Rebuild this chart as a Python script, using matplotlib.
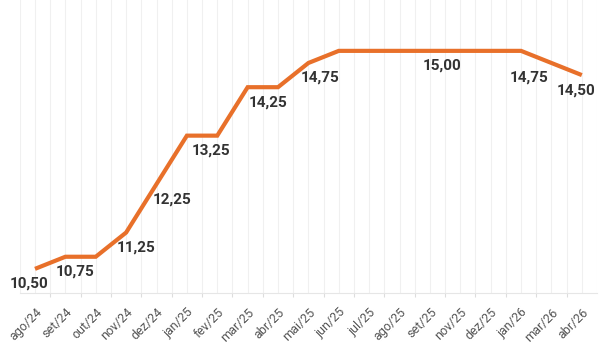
import matplotlib.pyplot as plt
import numpy as np

MONTHS = ["ago/24", "set/24", "out/24", "nov/24", "dez/24", "jan/25", "fev/25",
          "mar/25", "abr/25", "mai/25", "jun/25", "jul/25", "ago/25", "set/25",
          "nov/25", "dez/25", "jan/26", "mar/26", "abr/26"]
SELIC = [10.50, 10.75, 10.75, 11.25, 12.25, 13.25, 13.25, 14.25, 14.25, 14.75,
         15.00, 15.00, 15.00, 15.00, 15.00, 15.00, 15.00, 14.75, 14.50]

# which points get a value label, and where the label sits (pixels from the point)
LABEL_IDX = [0, 1, 3, 4, 5, 7, 9, 13, 17, 18]
LABEL_DX = [-6, 10, 10, 16, 24, 20, 12, 12, -22, -6]

ORANGE = "#E8702A"
TEXT = "#333333"


def fmt(v: float) -> str:
    return f"{v:.2f}".replace(".", ",")


def main() -> None:
    plt.rcParams.update({"font.family": ["Roboto", "DejaVu Sans"]})

    fig = plt.figure(figsize=(6.0, 3.51), dpi=100)
    ax = fig.add_axes([0.033, 0.165, 0.962, 0.835])

    x = np.arange(len(MONTHS))
    ax.plot(x, SELIC, color=ORANGE, linewidth=3.0, solid_capstyle="butt",
            solid_joinstyle="miter", zorder=3)

    for idx, dx in zip(LABEL_IDX, LABEL_DX):
        ax.annotate(fmt(SELIC[idx]), (x[idx], SELIC[idx]),
                    xytext=(dx, -15), textcoords="offset pixels",
                    ha="center", va="center", fontsize=11, fontweight="bold",
                    color=TEXT, zorder=4)

    ax.set_xlim(-0.5, len(MONTHS) - 0.5)
    ax.set_ylim(10.0, 16.05)

    # faint grid at category centres and boundaries
    for gx in np.arange(-0.5, len(MONTHS), 0.5):
        ax.axvline(gx, color="#F0F0F0", linewidth=0.8, zorder=0)

    ax.set_xticks(x)
    ax.set_xticklabels(MONTHS, rotation=45, ha="right", rotation_mode="anchor",
                       fontsize=9, color="#555555")
    ax.set_xticks(x[:-1] + 0.5, minor=True)
    ax.tick_params(axis="x", which="major", length=0, pad=9)
    ax.tick_params(axis="x", which="minor", length=3, color="#DDDDDD", width=0.8)
    ax.set_yticks([])

    for side in ["top", "right", "left"]:
        ax.spines[side].set_visible(False)
    ax.spines["bottom"].set_color("#E6E6E6")
    ax.spines["bottom"].set_linewidth(0.8)

    fig.savefig("out.png", dpi=100, facecolor="white")


if __name__ == "__main__":
    main()
